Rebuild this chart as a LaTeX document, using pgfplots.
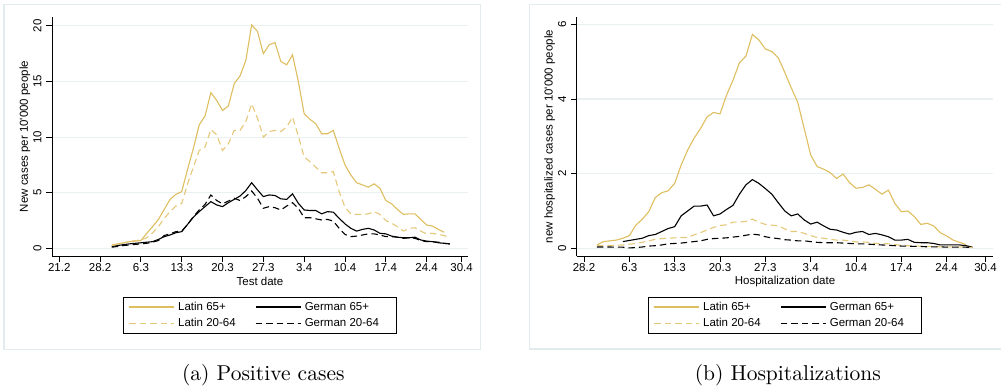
\documentclass[border=0pt]{standalone}
\usepackage{fontspec}
\usepackage{pgfplots}
\usepackage{pgfplotstable}
\pgfplotsset{compat=1.18}
\newfontfamily\arial{Liberation Sans}
\newfontfamily\capfont{lmroman10-regular.otf}
\newcommand{\lbl}{\arial\fontsize{11.5bp}{13.8bp}\selectfont}
\definecolor{gold}{RGB}{222,190,95}
\definecolor{goldl}{RGB}{228,200,122}
\definecolor{gridc}{RGB}{232,240,242}
\definecolor{framec}{RGB}{226,236,238}

% day 0 = 21 Feb 2020
\pgfplotstableread{
d l65 g65 l2064 g2064
9 0.3 0.17 0.25 0.1
10 0.4 0.25 0.35 0.17
11 0.5 0.33 0.5 0.25
12 0.6 0.4 0.6 0.3
13 0.65 0.45 0.7 0.35
14 0.7 0.5 0.75 0.4
15 1.35 0.55 0.95 0.45
16 1.95 0.6 1.4 0.55
17 2.6 0.8 1.95 0.7
18 3.5 1.05 2.7 1.15
19 4.4 1.2 3.3 1.3
20 4.85 1.4 3.8 1.5
21 5.1 1.5 4.05 1.55
22 7.1 2.15 5.8 2.15
23 9.0 2.8 7.3 2.85
24 11.1 3.3 8.8 3.45
25 11.9 3.75 9.1 3.95
26 14.0 4.2 10.7 4.8
27 13.3 3.9 10.2 4.3
28 12.4 3.75 8.8 4.0
29 12.8 4.1 9.4 4.25
30 14.8 4.4 10.6 4.5
31 15.5 4.7 10.6 4.3
32 16.9 5.2 11.4 4.65
33 20.1 5.9 13.0 5.15
34 19.5 5.25 11.7 4.5
35 17.5 4.65 10.0 3.6
36 18.3 4.8 10.5 3.75
37 18.5 4.75 10.6 3.65
38 16.8 4.45 10.5 3.45
39 16.5 4.4 10.9 3.8
40 17.4 4.9 11.8 4.1
41 15.0 4.05 10.1 3.6
42 12.1 3.45 8.2 2.75
43 11.6 3.4 7.8 2.75
44 11.2 3.4 7.3 2.65
45 10.3 3.1 6.8 2.55
46 10.3 3.3 6.8 2.6
47 10.6 3.25 6.9 2.45
48 9.0 2.7 5.1 1.8
49 7.5 2.2 3.7 1.25
50 6.6 1.8 3.1 1.05
51 5.9 1.55 3.05 1.1
52 5.7 1.7 3.05 1.2
53 5.5 1.8 3.1 1.3
54 5.8 1.65 3.3 1.3
55 5.4 1.35 3.05 1.2
56 4.3 1.3 2.5 1.05
57 4.0 1.1 2.25 1.05
58 3.5 1.0 1.95 1.0
59 3.05 0.95 1.55 0.9
60 3.1 0.95 1.8 0.95
61 3.1 1.0 1.85 0.9
62 2.6 0.75 1.55 0.7
63 2.1 0.65 1.3 0.6
64 2.0 0.6 1.35 0.6
65 1.7 0.5 1.25 0.55
66 1.45 0.45 1.15 0.45
67 nan 0.4 0.95 0.4
}\cases

\pgfplotstableread{
d l65 g65 l2064 g2064
9 0.09 nan 0.07 0.035
10 0.18 nan 0.07 0.035
11 0.2 nan 0.08 0.035
12 0.22 nan 0.08 0.03
13 0.27 0.18 0.09 0.03
14 0.34 0.21 0.11 0.01
15 0.62 0.24 0.13 0.02
16 0.78 0.27 0.16 0.035
17 0.98 0.34 0.2 0.06
18 1.36 0.37 0.24 0.07
19 1.49 0.45 0.26 0.09
20 1.54 0.53 0.27 0.12
21 1.74 0.58 0.28 0.13
22 2.23 0.87 0.29 0.14
23 2.63 1.0 0.29 0.16
24 2.95 1.13 0.36 0.18
25 3.21 1.13 0.42 0.2
26 3.52 1.16 0.49 0.24
27 3.64 0.87 0.56 0.26
28 3.6 0.92 0.61 0.27
29 4.1 1.04 0.63 0.28
30 4.5 1.15 0.7 0.3
31 4.97 1.45 0.7 0.32
32 5.15 1.7 0.72 0.35
33 5.73 1.84 0.78 0.38
34 5.58 1.74 0.7 0.36
35 5.34 1.6 0.64 0.31
36 5.27 1.45 0.62 0.28
37 5.1 1.22 0.6 0.26
38 4.71 1.0 0.52 0.23
39 4.3 0.87 0.45 0.22
40 3.91 0.92 0.45 0.2
41 3.21 0.76 0.4 0.2
42 2.5 0.65 0.34 0.18
43 2.19 0.7 0.29 0.16
44 2.12 0.6 0.27 0.15
45 2.03 0.51 0.24 0.15
46 1.87 0.49 0.22 0.15
47 1.99 0.43 0.22 0.14
48 1.76 0.38 0.2 0.13
49 1.61 0.43 0.17 0.12
50 1.63 0.45 0.17 0.12
51 1.7 0.37 0.16 0.11
52 1.58 0.4 0.13 0.1
53 1.45 0.36 0.13 0.09
54 1.56 0.31 0.12 0.08
55 1.2 0.22 0.1 0.07
56 0.98 0.22 0.08 0.06
57 1.0 0.24 0.07 0.06
58 0.85 0.16 0.06 0.05
59 0.64 0.15 0.06 0.05
60 0.67 0.15 0.05 0.04
61 0.6 0.13 0.05 0.04
62 0.42 0.09 0.04 0.04
63 0.33 0.09 0.04 0.03
64 0.22 0.09 0.04 0.03
65 0.16 0.09 0.04 0.03
66 0.1 0.07 0.03 0.03
67 nan 0.03 0.02 0.02
}\hosp

\pgfplotsset{
  stata/.style={
    scale only axis, width=416bp, height=239bp,
    axis x line*=bottom, axis y line*=left,
    axis line style={-, black, line width=0.9bp},
    every tick/.style={black, line width=0.9bp},
    tick align=outside,
    major tick length=5.5bp,
    ymajorgrids,
    major grid style={gridc, line width=1.1bp},
    tick label style={font=\lbl, inner sep=0pt},
    xticklabel style={anchor=north},
    yticklabel style={rotate=90, anchor=south},
    xticklabel shift=1.8bp,
    yticklabel shift=4.8bp,
    every axis x label/.style={at={(rel axis cs:0.5,0)}, yshift=-25.7bp, anchor=center, font=\lbl},
    every axis y label/.style={at={(rel axis cs:0,0.5)}, xshift=-27bp, rotate=90, anchor=center, font=\lbl},
    legend columns=2, legend cell align=left,
    legend image code/.code={\draw[##1] (0bp,0bp) -- (45bp,0bp);},
    legend style={at={(0.5,-0.171)}, anchor=north, draw=black, line width=0.8bp, font=\lbl,
      inner xsep=5bp, inner ysep=1.5bp,
      nodes={inner xsep=3.5bp, inner ysep=3.3bp},
      /tikz/every even column/.append style={column sep=16bp}},
  },
  l65/.style={gold, line width=1.1bp},
  g65/.style={black, line width=1.1bp},
  l2064/.style={goldl, line width=1.1bp, dash pattern=on 6.5bp off 4bp},
  g2064/.style={black, line width=1.1bp, dash pattern=on 6.5bp off 4bp},
}

\begin{document}
\begin{tikzpicture}
\useasboundingbox (0bp,0bp) rectangle (1001bp,388bp);
\draw[framec, line width=1.2bp] (4bp,383.3bp) rectangle (480.7bp,38.7bp);
\draw[framec, line width=1.2bp] (1010bp,383.3bp) -- (529.3bp,383.3bp) -- (529.3bp,39bp) -- (1010bp,39bp);

\begin{axis}[stata, at={(52bp,132bp)}, anchor=south west,
  xmin=-1.25, xmax=70.1, ymin=-0.69, ymax=20.8,
  xtick={0,7,14,21,28,35,42,49,56,63,69},
  xticklabels={21.2,28.2,6.3,13.3,20.3,27.3,3.4,10.4,17.4,24.4,30.4},
  ytick={0,5,10,15,20}, yticklabels={0,5,10,15,20},
  xlabel={Test date},
  ylabel={New cases per 10\textquotesingle 000 people}]
\addplot[l65] table[x=d, y=l65] {\cases};
\addlegendentry{Latin 65+}
\addplot[g65] table[x=d, y=g65] {\cases};
\addlegendentry{German 65+\hspace*{9bp}}
\addplot[l2064] table[x=d, y=l2064] {\cases};
\addlegendentry{Latin 20-64}
\addplot[g2064] table[x=d, y=g2064] {\cases};
\addlegendentry{German 20-64\hspace*{9bp}}
\end{axis}

\begin{axis}[stata, at={(576.7bp,132bp)}, anchor=south west, width=416.6bp,
  xmin=5.87, xmax=70.2, ymin=-0.206, ymax=6.196,
  xtick={7,14,21,28,35,42,49,56,63,69},
  xticklabels={28.2,6.3,13.3,20.3,27.3,3.4,10.4,17.4,24.4,30.4},
  ytick={0,2,4,6}, yticklabels={0,2,4,6},
  xlabel={Hospitalization date},
  ylabel={new hospitalized cases per 10\textquotesingle 000 people}]
\addplot[l65] table[x=d, y=l65] {\hosp};
\addlegendentry{Latin 65+}
\addplot[g65] table[x=d, y=g65] {\hosp};
\addlegendentry{German 65+\hspace*{9bp}}
\addplot[l2064] table[x=d, y=l2064] {\hosp};
\addlegendentry{Latin 20-64}
\addplot[g2064] table[x=d, y=g2064] {\hosp};
\addlegendentry{German 20-64\hspace*{9bp}}
\end{axis}

\node[font=\capfont\fontsize{21.5bp}{25bp}\selectfont, anchor=base] at (263.3bp,8bp) {(a) Positive cases};
\node[font=\capfont\fontsize{21.5bp}{25bp}\selectfont, anchor=base] at (787.8bp,8bp) {(b) Hospitalizations};
\end{tikzpicture}
\end{document}
